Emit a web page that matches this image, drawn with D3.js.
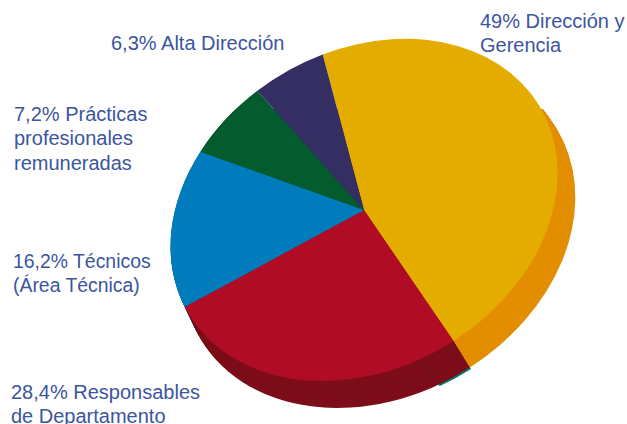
<!DOCTYPE html>
<html><head><meta charset="utf-8">
<script src="https://cdn.jsdelivr.net/npm/d3@7/dist/d3.min.js"></script>
<style>html,body{margin:0;padding:0;background:#fff}svg{display:block}</style>
</head><body><svg id="c" width="627" height="424"></svg>
<script>
const categories = ["Dirección y Gerencia","Responsables de Departamento","Técnicos (Área Técnica)","Prácticas profesionales remuneradas","Alta Dirección"];
const values = [49, 28.4, 16.2, 7.2, 6.3];
const topColors = ["#E5AC00","#B00C26","#007CBD","#045C2E","#342E62"];
const rimColors = ["#E38E00","#7D0E1A","#00659A","#034A25","#2A254F"];
const labelLines = [
  ["49% Dirección y","Gerencia"],
  ["28,4% Responsables","de Departamento"],
  ["16,2% Técnicos","(Área Técnica)"],
  ["7,2% Prácticas","profesionales","remuneradas"],
  ["6,3% Alta Dirección"]
];
const labelX = [480,11,13,14,111];
const labelY = [28,399,268,121,50];
const labelSize = [20,20,19.4,20,20];
const lineGap = 24.4;

const cx=364, cy=210, a=203.8, b=158.6, tilt=-30;
const rimDx=15, rimDy=24.6, rimScale=1.014, steps=40, rimTopLimit=109;
const svg=d3.select("#c");
const rad=d=>d*Math.PI/180;
const pie=d3.pie().sort(null).startAngle(rad(11.9)).endAngle(rad(371.9));
const arcs=pie(values);
const arc=d3.arc().innerRadius(0).outerRadius(1);
const frame=(dx,dy,s)=>`translate(${cx+dx},${cy+dy}) rotate(${tilt}) scale(${a*s},${b*s})`;

svg.append("clipPath").attr("id","wall").append("rect")
  .attr("x",0).attr("y",rimTopLimit).attr("width",627).attr("height",424-rimTopLimit);
const wall=svg.append("g").attr("clip-path","url(#wall)");

// hidden sliver slice showing only along the bottom of the rim
const sliverColor="#007A6E", dividerColor="#5A1628";
const redEnd=arcs[0].endAngle, sliverAngle=rad(10);
wall.append("path").attr("transform",frame(rimDx+1.2,rimDy+1.5,rimScale))
  .attr("d",arc({startAngle:redEnd,endAngle:redEnd+sliverAngle})).attr("fill",sliverColor);

// side wall: stacked copies from the deepest layer to the top
d3.range(steps,-1,-1).forEach(i=>{
  const t=i/steps;
  wall.append("g").attr("transform",frame(rimDx*t,rimDy*t,1+(rimScale-1)*t))
    .selectAll("path").data(arcs).join("path")
    .attr("d",arc).attr("fill",(d,j)=>rimColors[j]);
});
// divider on wall
const ang=redEnd+sliverAngle;
const pt=(dx,dy,s)=>{const x=Math.sin(ang)*a*s,y=-Math.cos(ang)*b*s,r=rad(tilt);
  return [cx+dx+x*Math.cos(r)-y*Math.sin(r),cy+dy+x*Math.sin(r)+y*Math.cos(r)];};
svg.append("path").attr("d",d3.line()([pt(0,0,1),pt(rimDx,rimDy,rimScale)]))
  .attr("stroke",dividerColor).attr("stroke-width",0.8).attr("fill","none");

// top face
svg.append("g").attr("transform",frame(0,0,1))
  .selectAll("path").data(arcs).join("path")
  .attr("d",arc).attr("fill",(d,j)=>topColors[j]);

// labels
labelLines.forEach((ls,i)=>{
  const t=svg.append("text").attr("font-family","'Liberation Sans',Arial,sans-serif")
    .attr("font-size",labelSize[i]).attr("fill","#3B55A0");
  ls.forEach((s,k)=>t.append("tspan").attr("x",labelX[i]).attr("y",labelY[i]+k*lineGap).text(s));
});
</script></body></html>
